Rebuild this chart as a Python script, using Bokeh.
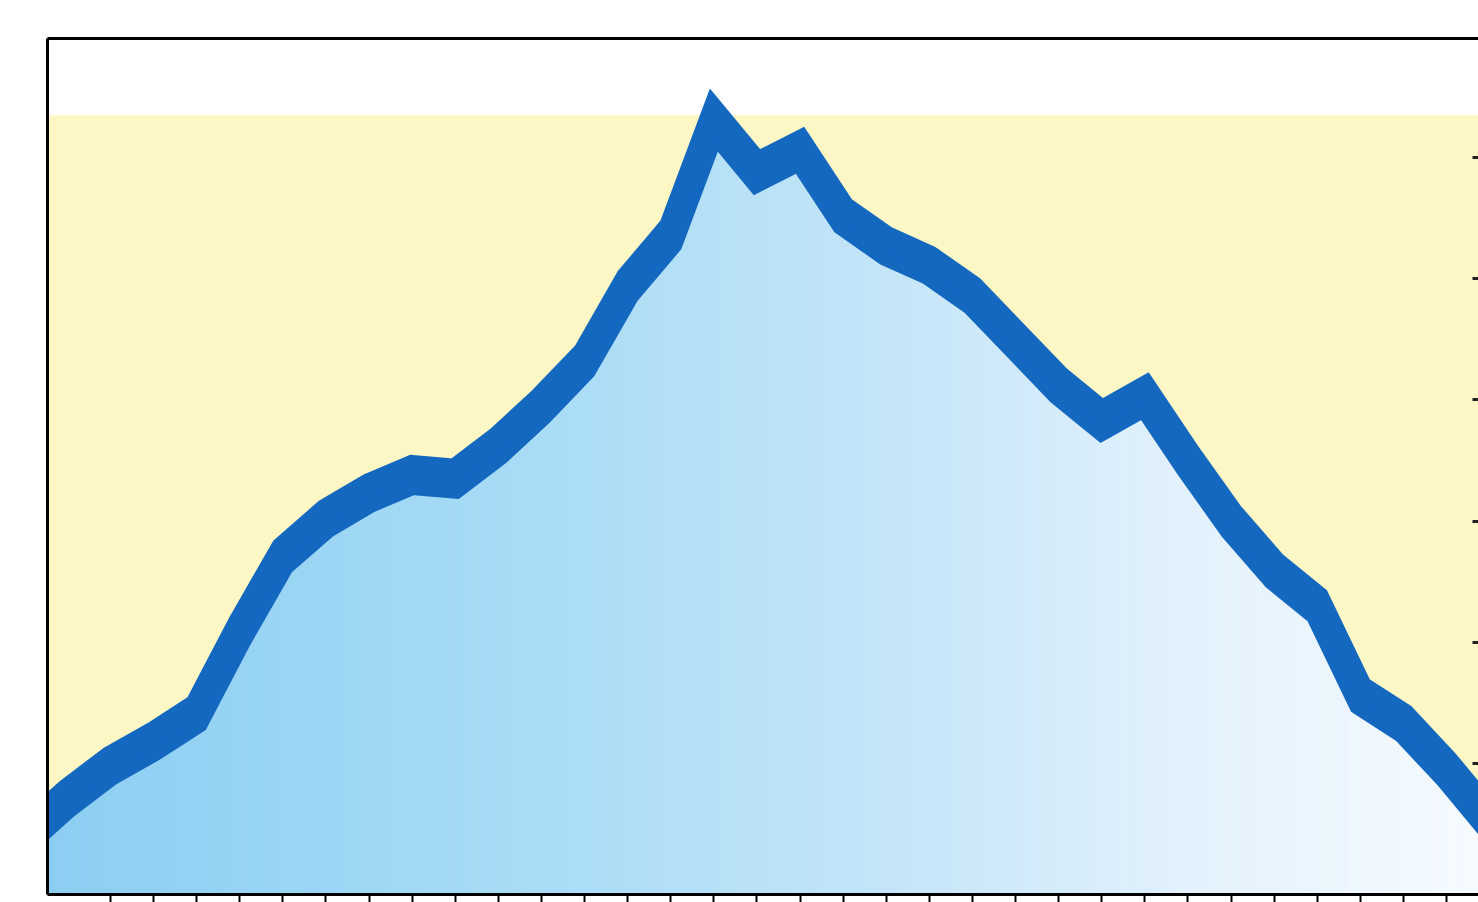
import numpy as np
from bokeh.plotting import figure
from bokeh.models import BoxAnnotation, LinearAxis, FixedTicker, Range1d, CustomJSTickFormatter
from bokeh.embed import file_html
from bokeh.resources import INLINE

# ---- data ----
x_idx = list(range(-3, 32))
values = [3.9, 7.1, 9.8, 11.8, 14.1, 20.9, 27.1, 30.2, 32.3, 33.8, 33.5, 36.2,
          39.5, 43.2, 49.4, 53.6, 63.1, 58.8, 60.6, 55.2, 52.7, 51.1, 48.6, 44.9,
          41.2, 38.3, 40.3, 35.0, 30.0, 25.9, 23.0, 15.6, 13.3, 9.5, 5.2]
x_ticks = list(range(-1, 31))
y_ticks = [10, 20, 30, 40, 50, 60]
band_top_value = 63.5

# ---- styling ----
X0, X1 = -2.46, 30.74
Y0, Y1 = -0.83, 69.83
BLUE = "#1468c0"
YELLOW = "#fcf7c4"
HALF = 0.66  # half vertical offset of the band, in y units

p = figure(width=1478, height=902, x_range=Range1d(X0, X1), y_range=Range1d(Y0, Y1),
           output_backend="svg", toolbar_location=None,
           x_axis_location=None, y_axis_location=None,
           min_border_left=47, min_border_top=38, min_border_bottom=8, min_border_right=0)
p.outline_line_color = None
p.background_fill_color = "white"
p.border_fill_color = "white"
p.xgrid.visible = False
p.ygrid.visible = False

p.add_layout(BoxAnnotation(bottom=Y0, top=band_top_value, fill_color=YELLOW, fill_alpha=1.0,
                           line_color=None, level="underlay"))

# gradient area below the line, as many narrow strips
xv = np.array(x_idx, dtype=float)
yv = np.array(values, dtype=float)
stops_x = [X0, 10.0, 17.0, 24.0, X1]
stops_c = np.array([[140, 206, 242], [172, 221, 246], [196, 229, 248], [226, 241, 252], [246, 251, 255]])
grid = np.linspace(xv[0], xv[-1], 200)
xs, ys, cols = [], [], []
for i in range(len(grid) - 1):
    a = grid[i]
    b = grid[min(i + 2, len(grid) - 1)]
    seg = np.linspace(a, b, 4)
    top = np.interp(seg, xv, yv) - HALF
    xs.append(list(seg) + [b, a])
    ys.append(list(top) + [Y0 - 1, Y0 - 1])
    mid = (grid[i] + grid[i + 1]) / 2
    c = [int(round(np.interp(mid, stops_x, stops_c[:, k]))) for k in range(3)]
    cols.append("#%02x%02x%02x" % tuple(c))
p.patches(xs, ys, fill_color=cols, line_color=cols, line_width=1)

# thick band
p.varea(x=xv, y1=yv - HALF, y2=yv + HALF, fill_color=BLUE)
p.line(xv, yv - HALF, line_width=24, line_color=BLUE, line_join="miter")
p.line(xv, yv + HALF, line_width=24, line_color=BLUE, line_join="miter")

blank = CustomJSTickFormatter(code="return ''")

# frame / axes
bottom = LinearAxis(ticker=FixedTicker(ticks=x_ticks), major_tick_out=8, major_tick_in=0,
                    minor_tick_line_color=None, formatter=blank,
                    major_label_standoff=0, axis_line_width=3, axis_line_color="black",
                    major_tick_line_width=2, major_tick_line_color="black")
p.add_layout(bottom, "below")
left = LinearAxis(ticker=FixedTicker(ticks=[]), major_tick_line_color=None, minor_tick_line_color=None,
                  formatter=blank, major_label_standoff=0,
                  axis_line_width=3, axis_line_color="black")
p.add_layout(left, "left")
top_ax = LinearAxis(ticker=FixedTicker(ticks=[]), major_tick_line_color=None, minor_tick_line_color=None,
                    formatter=blank, major_label_standoff=0,
                    axis_line_width=3, axis_line_color="black")
p.add_layout(top_ax, "above")
right = LinearAxis(ticker=FixedTicker(ticks=y_ticks), major_tick_in=6, major_tick_out=0,
                   minor_tick_line_color=None, formatter=blank,
                   major_label_standoff=0, axis_line_color=None,
                   major_tick_line_width=3, major_tick_line_color="#222222")
p.add_layout(right, "right")

open("out.html", "w").write(file_html(p, INLINE))
